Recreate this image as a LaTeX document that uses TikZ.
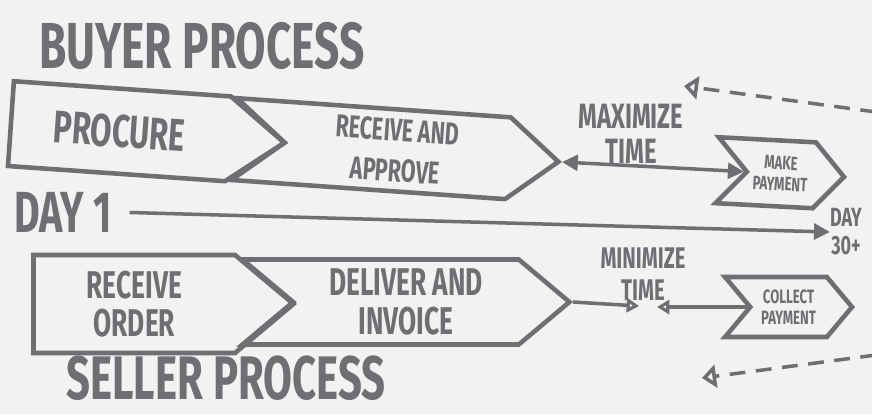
\documentclass[tikz,border=0pt]{standalone}
\usepackage{fontspec}
\usepackage{tikz}
\usetikzlibrary{shapes.symbols,arrows.meta}
\newfontfamily\handfont[FakeStretch=0.68]{Fira Sans}
\newcommand\handsize[2]{\handfont\bfseries\fontsize{#1}{#2}\selectfont}
\definecolor{ink}{RGB}{110,111,115}
\definecolor{paper}{RGB}{242,242,242}
\tikzset{
    heading/.style = {text=ink, inner sep=0pt, align=center},
    chevron/.style = {signal, signal to=east, draw=ink, line width=2.6pt, text=ink, align=center, inner sep=0pt, anchor=east},
    notched/.style = {chevron, signal from=west},
    span/.style = {draw=ink, line width=2pt, {Triangle[length=9pt,width=9pt]}-{Triangle[length=9pt,width=9pt]}},
    timeline/.style = {draw=ink, line width=2pt, -{Triangle[length=9pt,width=9pt]}},
    push/.style = {draw=ink, line width=2pt, -{Triangle[open,length=7pt,width=8pt]}},
    later/.style = {draw=ink, line width=2pt, dash pattern=on 9pt off 6pt, -{Triangle[open,length=8pt,width=13pt]}}
}
\begin{document}
\begin{tikzpicture}[x=0.02cm, y=-0.02cm]
\useasboundingbox (0,0) rectangle (872,414);
\fill[paper] (0,0) rectangle (872,414);

\node (buyer) [heading, font=\handsize{37}{37}] at (202,46) {BUYER PROCESS};
\node (procure) [chevron, rotate=-4, minimum width=5.48cm, minimum height=1.7cm, signal pointer angle=74, font=\handsize{26}{26}] at (288,143) {PROCURE};
\node (approve) [notched, rotate=-4, minimum width=6.5cm, minimum height=1.64cm, signal pointer angle=78, font=\handsize{18}{23}] at (562,162) {RECEIVE AND\\APPROVE};
\node (payment) [notched, rotate=-3, minimum width=2.54cm, minimum height=1.32cm, signal pointer angle=96, font=\handsize{11}{12}] at (847,177) {MAKE\\PAYMENT};
\node (maximize) [heading, font=\handsize{20}{20}] at (631,134) {MAXIMIZE\\TIME};

\node (day1) [heading, font=\handsize{33}{33}] at (63,212) {DAY 1};
\node (day30) [heading, font=\handsize{15}{16}] at (846,232) {DAY\\30+};

\node (order) [chevron, minimum width=5.2cm, minimum height=1.96cm, signal pointer angle=80, font=\handsize{22}{22}] at (297,304) {RECEIVE\\ORDER};
\node (invoice) [notched, minimum width=6.54cm, minimum height=1.7cm, signal pointer angle=80, font=\handsize{22}{22}] at (573,302) {DELIVER AND\\INVOICE};
\node (collect) [notched, minimum width=2.54cm, minimum height=1.2cm, signal pointer angle=100, font=\handsize{11}{12}] at (855,307) {COLLECT\\PAYMENT};
\node (minimize) [heading, font=\handsize{17}{18}] at (643,274) {MINIMIZE\\TIME};
\node (seller) [heading, font=\handsize{35}{35}] at (226,378) {SELLER PROCESS};

\coordinate (meetL) at (639,306);
\coordinate (meetR) at (657,307);
\coordinate (topfrom) at (876,112);
\coordinate (topto) at (684,86);
\coordinate (botfrom) at (876,355);
\coordinate (botto) at (702,378);

\draw [span] (approve.east) -- (payment.west);
\draw [timeline, shorten <=10pt] (day1.east) -- (day30.west);
\draw [push] (invoice.east) -- (meetL);
\draw [push] (collect.west) -- (meetR);
\draw [later] (topfrom) -- (topto);
\draw [later] (botfrom) -- (botto);
\end{tikzpicture}
\end{document}
